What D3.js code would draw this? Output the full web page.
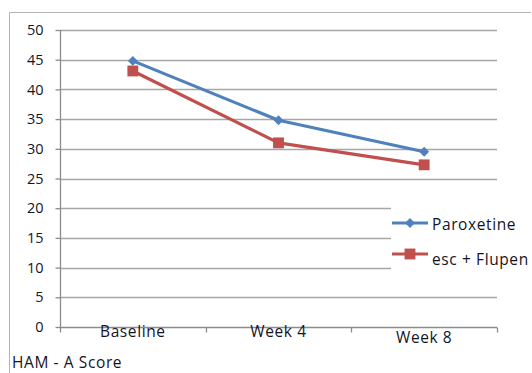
<!DOCTYPE html>
<html>
<head>
<meta charset="utf-8">
<script src="https://cdn.jsdelivr.net/npm/d3@7"></script>
<style>
  html, body { margin: 0; padding: 0; background: #fff; }
  svg text { font-family: "Open Sans", sans-serif; fill: #15151f; }
  .label { letter-spacing: 0.6px; }
</style>
</head>
<body>
<svg id="chart" width="532" height="373"></svg>
<script>
// HAM-A score over time for the two treatment groups
const categories = ["Baseline", "Week 4", "Week 8"];
const paroxetine = [44.8, 34.8, 29.5];
const escFlupen = [43.1, 31.0, 27.3];
const yTicks = [0, 5, 10, 15, 20, 25, 30, 35, 40, 45, 50];
const seriesNames = ["Paroxetine", "esc + Flupen"];
const axisTitle = "HAM - A Score";

const svg = d3.select("#chart");
const plot = { left: 60, right: 497, top: 30, bottom: 327 };
const fontSize = 15.5;

const x = d3.scaleBand().domain(categories).range([plot.left, plot.right]);
const y = d3.scaleLinear().domain([0, 50]).range([plot.bottom, plot.top]);

// outer frame (left and top edges visible)
svg.append("path")
  .attr("d", "M9.5,373 V12.5 H531")
  .attr("fill", "none").attr("stroke", "#b4b4b4").attr("stroke-width", 1);

// horizontal gridlines
svg.append("g")
  .selectAll("line").data(yTicks.filter(d => d > 0)).join("line")
  .attr("x1", plot.left).attr("x2", plot.right)
  .attr("y1", d => Math.round(y(d)) + 0.5).attr("y2", d => Math.round(y(d)) + 0.5)
  .attr("stroke", "#a6a6a6").attr("stroke-width", 1.3);

// y axis
const yAxis = svg.append("g")
  .attr("transform", `translate(${plot.left + 0.5},0)`)
  .call(d3.axisLeft(y).tickValues(yTicks).tickSize(5).tickPadding(12));
yAxis.selectAll("line, path").attr("stroke", "#8c8c8c").attr("stroke-width", 1.3);
yAxis.select(".domain").attr("d", `M0,${plot.top} V${plot.bottom}`);
yAxis.selectAll("text").attr("font-size", 14.5).attr("font-family", "'Open Sans', sans-serif").attr("fill", "#15151f");

// x axis with tick marks on category boundaries
const xg = svg.append("g").attr("transform", `translate(0,${plot.bottom + 0.5})`);
xg.append("line").attr("x1", plot.left).attr("x2", plot.right)
  .attr("stroke", "#8c8c8c").attr("stroke-width", 1.3);
const bounds = categories.map(c => x(c)).concat([x.range()[1]]);
xg.selectAll("line.tick").data(bounds).join("line").attr("class", "tick")
  .attr("x1", d => Math.round(d) + 0.5).attr("x2", d => Math.round(d) + 0.5)
  .attr("y1", 0).attr("y2", 5).attr("stroke", "#8c8c8c").attr("stroke-width", 1.3);
xg.selectAll("text").data(categories).join("text").attr("class", "label")
  .attr("x", d => x(d) + x.bandwidth() / 2)
  .attr("y", (d, i) => i === categories.length - 1 ? 15 : 9)
  .attr("text-anchor", "middle").attr("font-size", fontSize)
  .text(d => d);

// axis title
svg.append("text").attr("class", "label").attr("x", 12).attr("y", 368)
  .attr("font-size", fontSize).text(axisTitle);

// legend background covers the gridlines behind it
svg.append("rect").attr("x", 391).attr("y", 196).attr("width", 141).attr("height", 78).attr("fill", "#fff");

const colors = ["#4f81bd", "#c0504d"];
const series = [paroxetine, escFlupen];
const line = d3.line().x((d, i) => x(categories[i]) + x.bandwidth() / 2).y(d => y(d));

const diamond = d3.symbol().type(d3.symbolDiamond2).size(62);
const square = d3.symbol().type(d3.symbolSquare).size(118);
const shapes = [diamond, square];

series.forEach((vals, s) => {
  svg.append("path").datum(vals).attr("d", line)
    .attr("fill", "none").attr("stroke", colors[s]).attr("stroke-width", 3.2)
    .attr("stroke-linejoin", "round");
  svg.append("g").selectAll("path").data(vals).join("path")
    .attr("d", shapes[s]())
    .attr("transform", (d, i) => `translate(${x(categories[i]) + x.bandwidth() / 2},${y(d)})`)
    .attr("fill", colors[s]);
});

// legend
const legendRows = [223, 254];
seriesNames.forEach((name, s) => {
  const g = svg.append("g").attr("transform", `translate(0,${legendRows[s]})`);
  g.append("line").attr("x1", 392).attr("x2", 428).attr("stroke", colors[s]).attr("stroke-width", 3.2);
  g.append("path").attr("d", shapes[s]()).attr("transform", "translate(410,0)").attr("fill", colors[s]);
  g.append("text").attr("class", "label").attr("x", 432).attr("y", s === 0 ? 7 : 11)
    .attr("font-size", fontSize).text(name);
});
</script>
</body>
</html>
